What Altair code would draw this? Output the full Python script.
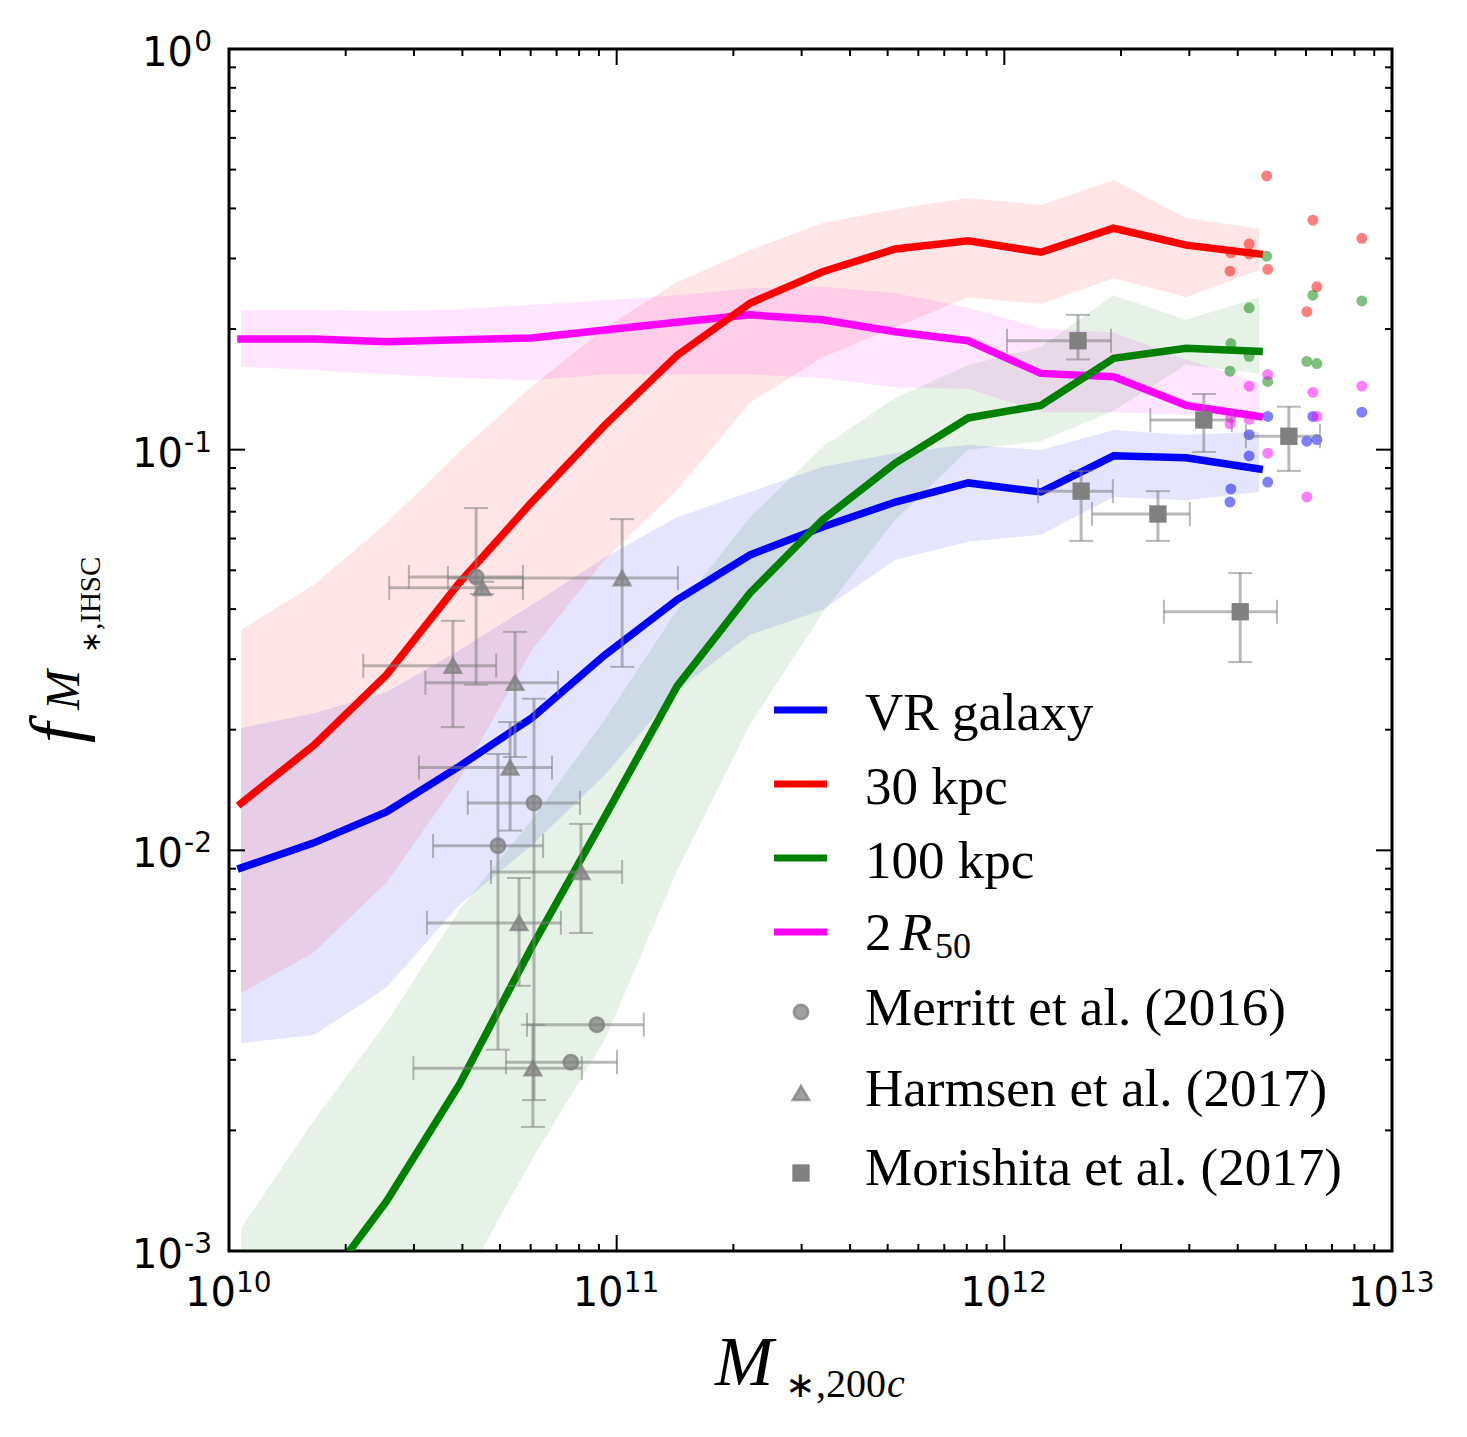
import altair as alt
import pandas as pd

# ---------------- data ----------------
MASS = [1.074e10, 1.656e10, 2.547e10, 3.926e10, 6.04e10, 9.31e10, 1.432e11, 2.208e11,
        3.396e11, 5.236e11, 8.07e11, 1.242e12, 1.914e12, 2.944e12, 4.54e12]

SERIES = ["VR galaxy", "30 kpc", "100 kpc", "2 R50"]
COLORS = ["#0000ff", "#ff0000", "#008000", "#ff00ff"]

F_VR = [0.00904, 0.01044, 0.01247, 0.0162, 0.0214, 0.0307, 0.0422, 0.0546, 0.0641, 0.0740,
        0.0826, 0.0784, 0.0965, 0.0954, 0.0895]
F_VR_LO = [0.0033, 0.00346, 0.00454, 0.0073, 0.0103, 0.0154, 0.0251, 0.0345, 0.0398, 0.0531,
           0.0589, 0.0613, 0.0762, 0.0748, 0.0784]
F_VR_HI = [0.0202, 0.0220, 0.0248, 0.0316, 0.0410, 0.0537, 0.0679, 0.0784, 0.0906, 0.0981,
           0.1028, 0.0998, 0.112, 0.109, 0.111]

F_30 = [0.0131, 0.0183, 0.0274, 0.0465, 0.074, 0.115, 0.172, 0.232, 0.278, 0.317,
        0.332, 0.311, 0.357, 0.324, 0.308]
F_30_LO = [0.0044, 0.00557, 0.0083, 0.0150, 0.0316, 0.0531, 0.0793, 0.131, 0.170, 0.202,
           0.240, 0.231, 0.268, 0.240, 0.281]
F_30_HI = [0.0355, 0.0460, 0.0656, 0.0987, 0.144, 0.201, 0.262, 0.315, 0.368, 0.399,
           0.425, 0.408, 0.471, 0.379, 0.356]

F_100 = [0.00040, 0.00076, 0.00133, 0.00260, 0.00574, 0.0121, 0.0257, 0.0439, 0.0668, 0.0926,
         0.120, 0.129, 0.169, 0.179, 0.176]
F_100_LO = [0.0001, 0.0002, 0.00042, 0.0008, 0.00169, 0.00336, 0.0089, 0.0206, 0.0391, 0.0668,
            0.100, 0.105, 0.125, 0.163, 0.155]
F_100_HI = [0.00114, 0.00212, 0.00371, 0.0071, 0.0119, 0.0212, 0.0398, 0.0679, 0.1016, 0.1346,
            0.1626, 0.1805, 0.243, 0.211, 0.240]

F_R50 = [0.189, 0.189, 0.186, 0.188, 0.190, 0.199, 0.208, 0.217, 0.211, 0.197,
         0.187, 0.155, 0.152, 0.129, 0.121]
F_R50_LO = [0.161, 0.158, 0.154, 0.151, 0.149, 0.154, 0.154, 0.154, 0.151, 0.143,
            0.142, 0.124, 0.124, 0.122, 0.119]
F_R50_HI = [0.223, 0.223, 0.222, 0.224, 0.230, 0.236, 0.243, 0.253, 0.255, 0.246,
            0.226, 0.201, 0.196, 0.168, 0.147]

# individual massive haloes
HALO_VR_M = [4.78e12, 6.25e12, 8.36e12, 4.28e12, 6.03e12, 6.40e12, 4.28e12, 4.78e12, 3.84e12, 3.82e12]
HALO_VR_F = [0.121, 0.121, 0.124, 0.109, 0.105, 0.106, 0.0965, 0.083, 0.0798, 0.074]
HALO_30_M = [4.75e12, 6.25e12, 8.36e12, 4.28e12, 3.84e12, 4.28e12, 3.82e12, 4.78e12, 6.40e12, 6.03e12]
HALO_30_F = [0.482, 0.374, 0.337, 0.326, 0.310, 0.308, 0.279, 0.282, 0.255, 0.221]
HALO_100_M = [4.75e12, 6.25e12, 8.36e12, 4.28e12, 3.84e12, 4.28e12, 3.82e12, 6.03e12, 6.40e12, 4.78e12]
HALO_100_F = [0.304, 0.243, 0.235, 0.226, 0.184, 0.171, 0.157, 0.166, 0.164, 0.148]
HALO_R50_M = [4.78e12, 4.28e12, 6.25e12, 8.36e12, 6.40e12, 3.84e12, 3.82e12, 4.28e12, 4.78e12, 6.03e12]
HALO_R50_F = [0.154, 0.144, 0.139, 0.144, 0.121, 0.120, 0.116, 0.119, 0.098, 0.0762]

# observations
MER_X = [4.34e10, 6.12e10, 4.94e10, 8.89e10, 7.62e10]
MER_XLO = [2.91e10, 4.13e10, 3.36e10, 5.87e10, 5.18e10]
MER_XHI = [5.73e10, 8.04e10, 6.46e10, 1.175e11, 1.002e11]
MER_Y = [0.0481, 0.01313, 0.01026, 0.00367, 0.00296]
MER_YLO = [0.0259, 0.00238, 0.00318, None, None]
MER_YHI = [0.0715, 0.0239, 0.0174, None, None]

HAR_X = [4.50e10, 1.033e11, 3.78e10, 5.47e10, 5.31e10, 5.60e10, 8.09e10, 6.08e10]
HAR_XLO = [2.59e10, 3.67e10, 2.22e10, 3.21e10, 3.09e10, 3.24e10, 4.74e10, 2.99e10]
HAR_XHI = [5.73e10, 1.439e11, 4.89e10, 7.06e10, 6.81e10, 7.18e10, 1.033e11, 8.13e10]
HAR_Y = [0.0452, 0.0478, 0.0289, 0.0262, 0.0161, 0.00659, 0.00883, 0.00286]
HAR_YLO = [0.0436, 0.0287, 0.0203, 0.0171, 0.0112, 0.00459, 0.00622, 0.00204]
HAR_YHI = [0.0468, 0.0671, 0.0374, 0.0351, 0.0209, 0.00853, 0.01164, 0.00367]

MOR_X = [1.549e12, 3.27e12, 5.42e12, 1.578e12, 2.49e12, 4.06e12]
MOR_XLO = [1.016e12, 2.38e12, 4.20e12, 1.222e12, 1.683e12, 2.58e12]
MOR_XHI = [1.884e12, 3.86e12, 6.52e12, 1.905e12, 3.01e12, 5.05e12]
MOR_Y = [0.187, 0.1186, 0.108, 0.0788, 0.0691, 0.0394]
MOR_YLO = [0.168, 0.0987, 0.0885, 0.0592, 0.0592, 0.0295]
MOR_YHI = [0.217, 0.1377, 0.128, 0.0885, 0.0788, 0.0492]

OBS_LABELS = ["Merritt et al. (2016)", "Harmsen et al. (2017)", "Morishita et al. (2017)"]

X_MAJOR = [1e10, 1e11, 1e12, 1e13]
X_EXP = ["10", "11", "12", "13"]
Y_MAJOR = [1e-3, 1e-2, 1e-1, 1e0]
Y_MAJOR_NEG = [1e-3, 1e-2, 1e-1]
Y_EXP_NEG = ["-3", "-2", "-1"]
Y_MAJOR_TOP = [1e0]
Y_EXP_TOP = ["0"]
X_MINOR = [k * 10.0 ** d for d in (10, 11, 12) for k in range(2, 10)]
Y_MINOR = [k * 10.0 ** d for d in (-3, -2, -1) for k in range(2, 10)]

# ---------------- layout ----------------
W, H = 1163, 1202
xsc = alt.Scale(type="log", domain=[1e10, 1e13], nice=False)
ysc = alt.Scale(type="log", domain=[1e-3, 1.0], nice=False)
GREY = "#808080"
SERIF = "Liberation Serif"
SANS = "DejaVu Sans"


def X(f):
    return alt.X(f, type="quantitative", scale=xsc, axis=None)


def Y(f):
    return alt.Y(f, type="quantitative", scale=ysc, axis=None)


one = pd.DataFrame({"a": [0]})
layers = []

mains = [F_VR, F_30, F_100, F_R50]
los = [F_VR_LO, F_30_LO, F_100_LO, F_R50_LO]
his = [F_VR_HI, F_30_HI, F_100_HI, F_R50_HI]
dfs = [pd.DataFrame({"m": MASS, "f": f, "lo": lo, "hi": hi}) for f, lo, hi in zip(mains, los, his)]

# bands
for d, c in zip(dfs, COLORS):
    layers.append(alt.Chart(d).mark_area(color=c, opacity=0.1, clip=True).encode(
        x=X("m"), y=Y("lo"), y2=alt.Y2("hi")))

# median lines
for idx in [3, 0, 1, 2]:
    layers.append(alt.Chart(dfs[idx]).mark_line(color=COLORS[idx], strokeWidth=7.5, clip=True,
                                                strokeCap="square").encode(x=X("m"), y=Y("f")))

# individual haloes
halos = [(HALO_VR_M, HALO_VR_F), (HALO_30_M, HALO_30_F), (HALO_100_M, HALO_100_F), (HALO_R50_M, HALO_R50_F)]
for (hm, hf), c in zip(halos, COLORS):
    layers.append(alt.Chart(pd.DataFrame({"m": hm, "f": hf})).mark_circle(
        color=c, opacity=0.5, size=120).encode(x=X("m"), y=Y("f")))


def marker(data, shp, sz):
    if shp == "square":
        return alt.Chart(data).mark_point(shape=shp, filled=True, size=sz, color=GREY, opacity=1.0)
    return alt.Chart(data).mark_point(shape=shp, filled=True, size=sz, fill=GREY, fillOpacity=0.75,
                                      stroke=GREY, strokeOpacity=0.75, strokeWidth=2.5)


# observations
obs = [
    (MER_X, MER_XLO, MER_XHI, MER_Y, MER_YLO, MER_YHI, "circle", 210),
    (HAR_X, HAR_XLO, HAR_XHI, HAR_Y, HAR_YLO, HAR_YHI, "triangle-up", 270),
    (MOR_X, MOR_XLO, MOR_XHI, MOR_Y, MOR_YLO, MOR_YHI, "square", 300),
]
for xv, xl, xh, yv, yl, yh, shp, sz in obs:
    d = pd.DataFrame({"x": xv, "xlo": xl, "xhi": xh, "y": yv, "ylo": yl, "yhi": yh})
    dy = d.dropna(subset=["ylo"])
    bar = dict(color=GREY, opacity=0.55)
    layers.append(alt.Chart(d).mark_rule(strokeWidth=3, **bar).encode(x=X("xlo"), x2=alt.X2("xhi"), y=Y("y")))
    layers.append(alt.Chart(dy).mark_rule(strokeWidth=3, **bar).encode(x=X("x"), y=Y("ylo"), y2=alt.Y2("yhi")))
    for col in ["xlo", "xhi"]:
        layers.append(alt.Chart(d).mark_tick(orient="vertical", size=24, thickness=2, **bar).encode(
            x=X(col), y=Y("y")))
    for col in ["ylo", "yhi"]:
        layers.append(alt.Chart(dy).mark_tick(orient="horizontal", size=24, thickness=2, **bar).encode(
            x=X("x"), y=Y(col)))
    layers.append(marker(d, shp, sz).encode(x=X("x"), y=Y("y")))

# ticks (inside, all four sides)
for vals, ln in [(X_MAJOR, 16), (X_MINOR, 7)]:
    d = pd.DataFrame({"v": vals})
    layers.append(alt.Chart(d).mark_rule(color="black", strokeWidth=2).encode(
        x=X("v"), y=alt.value(H), y2=alt.value(H - ln)))
    layers.append(alt.Chart(d).mark_rule(color="black", strokeWidth=2).encode(
        x=X("v"), y=alt.value(0), y2=alt.value(ln)))
for vals, ln in [(Y_MAJOR, 16), (Y_MINOR, 7)]:
    d = pd.DataFrame({"v": vals})
    layers.append(alt.Chart(d).mark_rule(color="black", strokeWidth=2).encode(
        y=Y("v"), x=alt.value(0), x2=alt.value(ln)))
    layers.append(alt.Chart(d).mark_rule(color="black", strokeWidth=2).encode(
        y=Y("v"), x=alt.value(W), x2=alt.value(W - ln)))

# tick labels: "10" plus a raised exponent
BASE_FS, EXP_FS = 40, 28
xl = pd.DataFrame({"v": X_MAJOR, "e": X_EXP})
layers.append(alt.Chart(xl).mark_text(
    text="10", font=SANS, fontSize=BASE_FS, align="left", baseline="alphabetic", dx=-44, color="black").encode(
    x=X("v"), y=alt.value(H + 55)))
layers.append(alt.Chart(xl).mark_text(
    font=SANS, fontSize=EXP_FS, align="left", baseline="alphabetic", dx=7, color="black").encode(
    x=X("v"), y=alt.value(H + 41), text="e:N"))

for vals, exps, base_x in [(Y_MAJOR_TOP, Y_EXP_TOP, -36), (Y_MAJOR_NEG, Y_EXP_NEG, -46)]:
    d = pd.DataFrame({"v": vals, "e": exps})
    layers.append(alt.Chart(d).mark_text(
        text="10", font=SANS, fontSize=BASE_FS, align="right", baseline="alphabetic", dy=17,
        color="black").encode(x=alt.value(base_x), y=Y("v")))
    layers.append(alt.Chart(d).mark_text(
        font=SANS, fontSize=EXP_FS, align="right", baseline="alphabetic", dy=2,
        color="black").encode(x=alt.value(-17), y=Y("v"), text="e:N"))


def txt(s, x, y, size, italic=False, angle=0, font=SERIF):
    kw = dict(text=s, font=font, fontSize=size, align="left", baseline="alphabetic", color="black")
    if italic:
        kw["fontStyle"] = "italic"
    if angle:
        kw["angle"] = angle
    return alt.Chart(one).mark_text(**kw).encode(x=alt.value(x), y=alt.value(y))


# axis titles
layers.append(txt("M", 486, 1336, 70, italic=True))
layers.append(txt("∗", 556, 1348, 36, font=SANS))
layers.append(txt(",200", 587, 1348, 40))
layers.append(txt("c", 658, 1348, 40, italic=True))

layers.append(txt("f", -149, 694, 72, italic=True, angle=270))
layers.append(txt("M", -150, 661, 48, italic=True, angle=270))
layers.append(txt("∗", -129, 604, 26, angle=270, font=SANS))
layers.append(txt(",IHSC", -129, 581, 29, angle=270))

# legend
for i, c in enumerate(COLORS):
    layers.append(alt.Chart(one).mark_rule(color=c, strokeWidth=7).encode(
        x=alt.value(545), x2=alt.value(598), y=alt.value(661 + 74 * i)))
for i, lab in enumerate(SERIES[:3]):
    layers.append(txt(lab, 636, 681 + 74 * i, 53))
layers.append(txt("2", 636, 901, 53))
layers.append(txt("R", 671, 901, 53, italic=True))
layers.append(txt("50", 706, 909, 36))
leg_shapes = [("circle", 210), ("triangle-up", 270), ("square", 300)]
for i, (lab, (shp, sz)) in enumerate(zip(OBS_LABELS, leg_shapes)):
    layers.append(marker(one, shp, sz).encode(x=alt.value(572), y=alt.value([963, 1044, 1124][i])))
    layers.append(txt(lab, 636, [976, 1057, 1136][i], 53))

chart = alt.layer(*layers).properties(
    width=W, height=H,
    autosize=alt.AutoSizeParams(type="none"),
    padding={"left": 221, "top": 41, "right": 60, "bottom": 180},
).configure_view(stroke="black", strokeWidth=3)

chart.save("out.html", embed_options={"renderer": "svg", "actions": False})
